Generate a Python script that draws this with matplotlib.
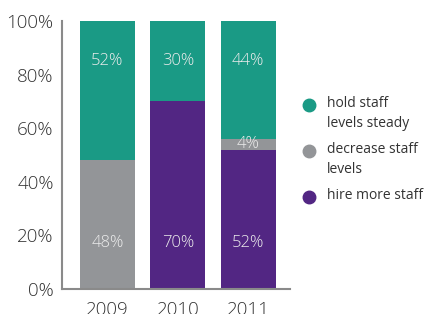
import matplotlib.pyplot as plt
import numpy as np
from matplotlib.lines import Line2D

years = ['2009', '2010', '2011']
hire_more = [0, 70, 52]
decrease = [48, 0, 4]
hold_steady = [52, 30, 44]

series_names = ['hold staff\nlevels steady', 'decrease staff\nlevels', 'hire more staff']
colors = {'hold': '#1a9a85', 'decrease': '#939598', 'hire': '#522683'}


def main():
    plt.rcParams['font.family'] = ['Open Sans', 'DejaVu Sans']
    plt.rcParams['font.weight'] = 'light'
    fig = plt.figure(figsize=(4.25, 3.14), dpi=100)
    ax = fig.add_axes([0.146, 0.080, 0.536, 0.853])

    x = np.arange(len(years))
    width = 0.78
    hire = np.array(hire_more)
    dec = np.array(decrease)
    hold = np.array(hold_steady)

    ax.bar(x, hire, width, color=colors['hire'], zorder=2)
    ax.bar(x, dec, width, bottom=hire, color=colors['decrease'], zorder=2)
    ax.bar(x, hold, width, bottom=hire + dec, color=colors['hold'], zorder=2)

    lab = dict(ha='center', va='center', color='#ececec', fontsize=12)
    for i in range(len(years)):
        # top label (hold steady)
        ax.text(x[i], 85, f'{hold[i]}%', **lab)
        # bottom label: whichever series sits at the bottom
        bottom_val = hire[i] if hire[i] > 0 else dec[i]
        ax.text(x[i], 17, f'{bottom_val}%', **lab)
        # small middle segment
        if hire[i] > 0 and dec[i] > 0:
            ax.text(x[i], hire[i] + dec[i] / 2, f'{dec[i]}%', **lab)

    ax.set_xlim(-0.645, 2.59)
    ax.set_ylim(0, 100)
    ax.set_yticks([0, 20, 40, 60, 80, 100])
    ax.set_yticklabels([f'{v}%' for v in range(0, 101, 20)])
    ax.set_xticks(x, years)
    ax.tick_params(axis='y', length=0, pad=6, labelsize=13.5, labelcolor='#333333')
    ax.tick_params(axis='x', length=0, pad=9, labelsize=13.5, labelcolor='#333333')
    for s in ['top', 'right']:
        ax.spines[s].set_visible(False)
    for s in ['left', 'bottom']:
        ax.spines[s].set_color('#8a8a8a')
        ax.spines[s].set_linewidth(1.5)

    # legend drawn by hand so markers line up with first text line
    leg_colors = [colors['hold'], colors['decrease'], colors['hire']]
    leg_y = [1 - 105 / 314, 1 - 151 / 314, 1 - 197 / 314]
    for name, c, y in zip(series_names, leg_colors, leg_y):
        fig.add_artist(Line2D([309 / 425], [y], marker='o', markersize=9,
                              color=c, linestyle='none', transform=fig.transFigure))
        fig.text(327 / 425, y + 0.028, name, ha='left', va='top', fontsize=10,
                 color='#333333', linespacing=1.45, fontweight='normal')

    plt.savefig('out.png', dpi=100)


if __name__ == '__main__':
    main()
